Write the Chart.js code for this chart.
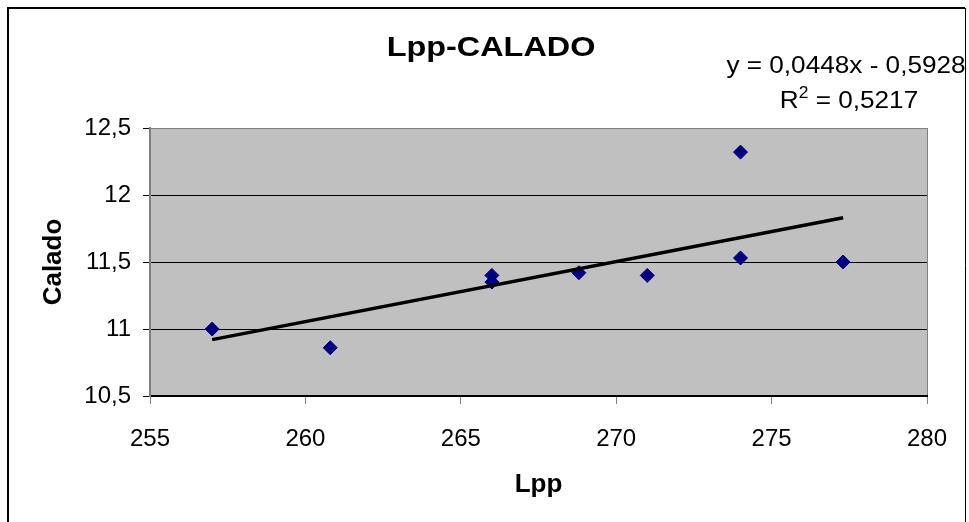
<!DOCTYPE html>
<html>
<head>
<meta charset="utf-8">
<script src="https://cdn.jsdelivr.net/npm/chart.js@4/dist/chart.umd.min.js"></script>
<style>
  html, body { margin: 0; padding: 0; background: #ffffff; }
  #wrap { width: 969px; height: 522px; }
</style>
</head>
<body>
<div id="wrap"><canvas id="c" width="969" height="522"></canvas></div>
<script>
// Lpp (length between perpendiculars) against draught (Calado)
const lpp = [257, 260.8, 266, 266, 268.8, 271, 274, 274, 277.3];
const calado = [11.0, 10.86, 11.4, 11.35, 11.42, 11.4, 12.32, 11.53, 11.5];

// Linear trend fitted to the points
const trendSlope = 0.0448;
const trendIntercept = -0.5928;
const rSquared = 0.5217;

// Axis ranges and tick steps
const xRange = [255, 280];
const yRange = [10.5, 12.5];
const xStep = 5;
const yStep = 0.5;

const chartTitle = 'Lpp-CALADO';
const xTitle = 'Lpp';
const yTitle = 'Calado';

const fmt = (v, d) => v.toFixed(d).replace('.', ',');
const comma = v => String(v).replace('.', ',');

const points = lpp.map((x, i) => ({ x, y: calado[i] }));
const xMin = Math.min(...lpp), xMax = Math.max(...lpp);
const trend = [xMin, xMax].map(x => ({ x, y: trendSlope * x + trendIntercept }));

const FONT = '"Liberation Sans", Arial, sans-serif';

function stretchedText(ctx, text, x, y, font, sx, align) {
  ctx.save();
  ctx.font = font;
  const w = ctx.measureText(text).width * sx;
  let left = x;
  if (align === 'center') left = x - w / 2;
  else if (align === 'right') left = x - w;
  ctx.translate(left, y);
  ctx.scale(sx, 1);
  ctx.textAlign = 'left';
  ctx.textBaseline = 'alphabetic';
  ctx.fillText(text, 0, 0);
  ctx.restore();
}

const decor = {
  id: 'decor',
  beforeDraw(chart) {
    const { ctx, chartArea: a } = chart;
    ctx.save();
    ctx.fillStyle = '#ffffff';
    ctx.fillRect(0, 0, chart.width, chart.height);
    ctx.fillStyle = '#c0c0c0';
    ctx.fillRect(a.left, a.top, a.right - a.left, a.bottom - a.top);
    ctx.restore();
  },
  afterDraw(chart) {
    const { ctx, chartArea: a } = chart;
    ctx.save();
    // outer frame
    ctx.strokeStyle = '#000000';
    ctx.lineWidth = 2;
    ctx.beginPath();
    ctx.moveTo(8, 530); ctx.lineTo(8, 8); ctx.lineTo(965, 8);
    ctx.stroke();
    ctx.lineWidth = 1;
    ctx.beginPath();
    ctx.moveTo(965.5, 8); ctx.lineTo(965.5, 530);
    ctx.stroke();

    ctx.fillStyle = '#000000';
    // chart title
    stretchedText(ctx, chartTitle, 491, 56, 'bold 27px ' + FONT, 1.2, 'center');

    // trend equation and R²
    const sign = trendIntercept < 0 ? ' - ' : ' + ';
    const eq = 'y = ' + fmt(trendSlope, 4) + 'x' + sign + fmt(Math.abs(trendIntercept), 4);
    stretchedText(ctx, eq, 846, 73, '24px ' + FONT, 1.09, 'center');

    const sx = 1.09;
    const big = '24px ' + FONT, small = '16px ' + FONT;
    ctx.font = big;
    const wR = ctx.measureText('R').width * sx;
    const rest = ' = ' + fmt(rSquared, 4);
    const wRest = ctx.measureText(rest).width * sx;
    ctx.font = small;
    const w2 = ctx.measureText('2').width * sx;
    const total = wR + w2 + wRest;
    let x0 = 849 - total / 2;
    stretchedText(ctx, 'R', x0, 108, big, sx, 'left');
    stretchedText(ctx, '2', x0 + wR, 98, small, sx, 'left');
    stretchedText(ctx, rest, x0 + wR + w2, 108, big, sx, 'left');

    // axis titles
    stretchedText(ctx, xTitle, (a.left + a.right) / 2, 492, 'bold 26px ' + FONT, 1.0, 'center');
    ctx.translate(61, (a.top + a.bottom) / 2);
    ctx.rotate(-Math.PI / 2);
    stretchedText(ctx, yTitle, 0, 0, 'bold 26px ' + FONT, 1.0, 'center');
    ctx.restore();
  }
};

new Chart(document.getElementById('c'), {
  type: 'scatter',
  data: {
    datasets: [
      {
        type: 'line',
        data: trend,
        borderColor: '#000000',
        borderWidth: 3.5,
        pointRadius: 0,
        fill: false,
        order: 0
      },
      {
        data: points,
        pointStyle: 'rectRot',
        pointRadius: 7,
        pointHoverRadius: 7,
        backgroundColor: '#000080',
        borderColor: '#000080',
        borderWidth: 1,
        order: 1
      }
    ]
  },
  options: {
    responsive: false,
    animation: false,
    events: [],
    layout: { padding: { left: 0, top: 128, right: 42, bottom: 0 } },
    plugins: { legend: { display: false }, title: { display: false }, tooltip: { enabled: false } },
    scales: {
      x: {
        type: 'linear',
        min: xRange[0], max: xRange[1],
        afterFit: s => { s.height = 126; },
        ticks: {
          stepSize: xStep,
          color: '#000000',
          padding: 21,
          maxRotation: 0,
          font: { family: FONT, size: 24 },
          callback: v => comma(v)
        },
        grid: {
          drawOnChartArea: true,
          color: c => (c.tick && c.tick.value === xRange[1]) ? '#808080' : 'rgba(0,0,0,0)',
          tickColor: '#808080',
          tickLength: 8,
          lineWidth: 1
        },
        border: { display: true, color: '#000000', width: 2 }
      },
      y: {
        type: 'linear',
        min: yRange[0], max: yRange[1],
        afterFit: s => { s.width = 150; },
        ticks: {
          stepSize: yStep,
          color: '#000000',
          padding: 12,
          font: { family: FONT, size: 24 },
          callback: v => comma(v)
        },
        grid: {
          color: c => (c.tick && c.tick.value === yRange[1]) ? '#808080' : '#000000',
          tickColor: '#000000',
          tickLength: 7,
          lineWidth: 1
        },
        border: { display: true, color: '#808080', width: 2 }
      }
    }
  },
  plugins: [decor]
});
</script>
</body>
</html>
